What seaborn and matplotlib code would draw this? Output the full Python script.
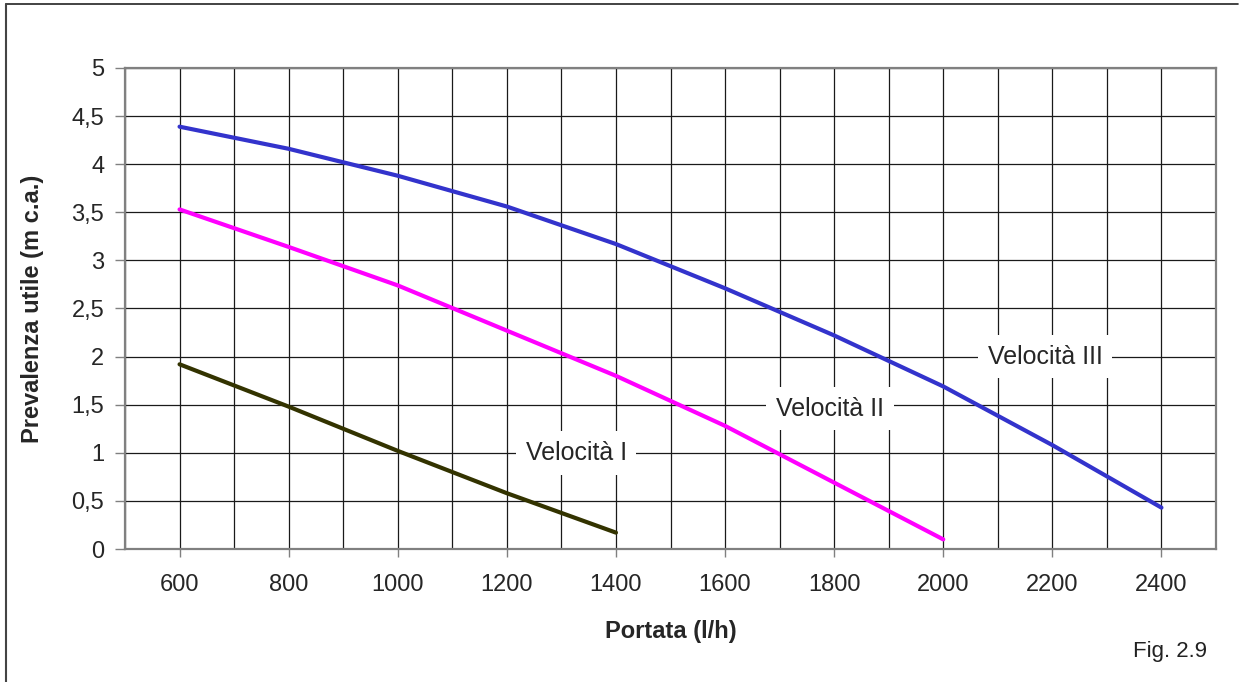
import matplotlib
matplotlib.use("Agg")
import matplotlib.pyplot as plt
import seaborn as sns
import pandas as pd
from matplotlib.lines import Line2D

# data
portata = [600, 800, 1000, 1200, 1400, 1600, 1800, 2000, 2200, 2400]
vel_3 = [4.39, 4.16, 3.88, 3.56, 3.17, 2.71, 2.22, 1.69, 1.08, 0.43]
vel_2 = [3.53, 3.14, 2.74, 2.27, 1.80, 1.28, 0.69, 0.10]
vel_1 = [1.92, 1.48, 1.02, 0.58, 0.17]
y_ticks = [0, 0.5, 1, 1.5, 2, 2.5, 3, 3.5, 4, 4.5, 5]
y_labels = ["0", "0,5", "1", "1,5", "2", "2,5", "3", "3,5", "4", "4,5", "5"]
series_names = ["Velocità I", "Velocità II", "Velocità III"]
colors = ["#333300", "#FF00FF", "#3333CC"]

sns.set_style("white")
plt.rcParams['font.family'] = ['Liberation Sans', 'DejaVu Sans']

df = pd.concat([
    pd.DataFrame({"x": portata[:len(vel_1)], "y": vel_1, "serie": series_names[0]}),
    pd.DataFrame({"x": portata[:len(vel_2)], "y": vel_2, "serie": series_names[1]}),
    pd.DataFrame({"x": portata[:len(vel_3)], "y": vel_3, "serie": series_names[2]}),
])

fig = plt.figure(figsize=(12.47, 6.82), dpi=100)
ax = fig.add_axes([125 / 1247, 1 - 549 / 682, 1091 / 1247, 481 / 682])

sns.lineplot(data=df, x="x", y="y", hue="serie", palette=colors, sort=False,
             linewidth=3, legend=False, ax=ax, zorder=3)

ax.set_xlim(500, 2500)
ax.set_ylim(0, 5)
ax.set_xticks(portata)
ax.set_xticklabels([str(p) for p in portata])
ax.set_xticks(list(range(500, 2600, 200)), minor=True)
ax.set_yticks(y_ticks)
ax.set_yticklabels(y_labels)

ax.grid(True, which="both", color="#1a1a1a", linewidth=0.9, zorder=0)
ax.set_axisbelow(True)
for s in ax.spines.values():
    s.set_color("#808080")
    s.set_linewidth(1.6)

ax.tick_params(axis="x", which="major", direction="out", length=6, width=1,
               color="#808080", pad=12, labelsize=17)
ax.tick_params(axis="x", which="minor", length=0)
ax.tick_params(axis="y", direction="out", length=7, width=1,
               color="#808080", pad=8, labelsize=17)
ax.xaxis.set_ticks_position("bottom")
ax.yaxis.set_ticks_position("left")

ax.set_xlabel("Portata (l/h)", fontsize=17, fontweight="bold", labelpad=17)
ax.set_ylabel("Prevalenza utile (m c.a.)", fontsize=17, fontweight="bold", labelpad=20)

box = dict(facecolor="white", edgecolor="none", pad=7)
ax.text(1327, 1.0, series_names[0], fontsize=18, ha="center", va="center", bbox=box, zorder=4)
ax.text(1792, 1.46, series_names[1], fontsize=18, ha="center", va="center", bbox=box, zorder=4)
ax.text(2187, 2.0, series_names[2], fontsize=18, ha="center", va="center", bbox=box, zorder=4)

fig.text(1170 / 1247, 1 - 652 / 682, "Fig. 2.9", fontsize=16, ha="center", va="center",
         color="#222222")

# outer frame (top and left edges)
fig.add_artist(Line2D([6 / 1247, 1238 / 1247], [1 - 4 / 682, 1 - 4 / 682],
                      transform=fig.transFigure, color="#222222", linewidth=1.2))
fig.add_artist(Line2D([6 / 1247, 6 / 1247], [0, 1 - 4 / 682],
                      transform=fig.transFigure, color="#444444", linewidth=1.5))

fig.savefig("out.png", dpi=100)
